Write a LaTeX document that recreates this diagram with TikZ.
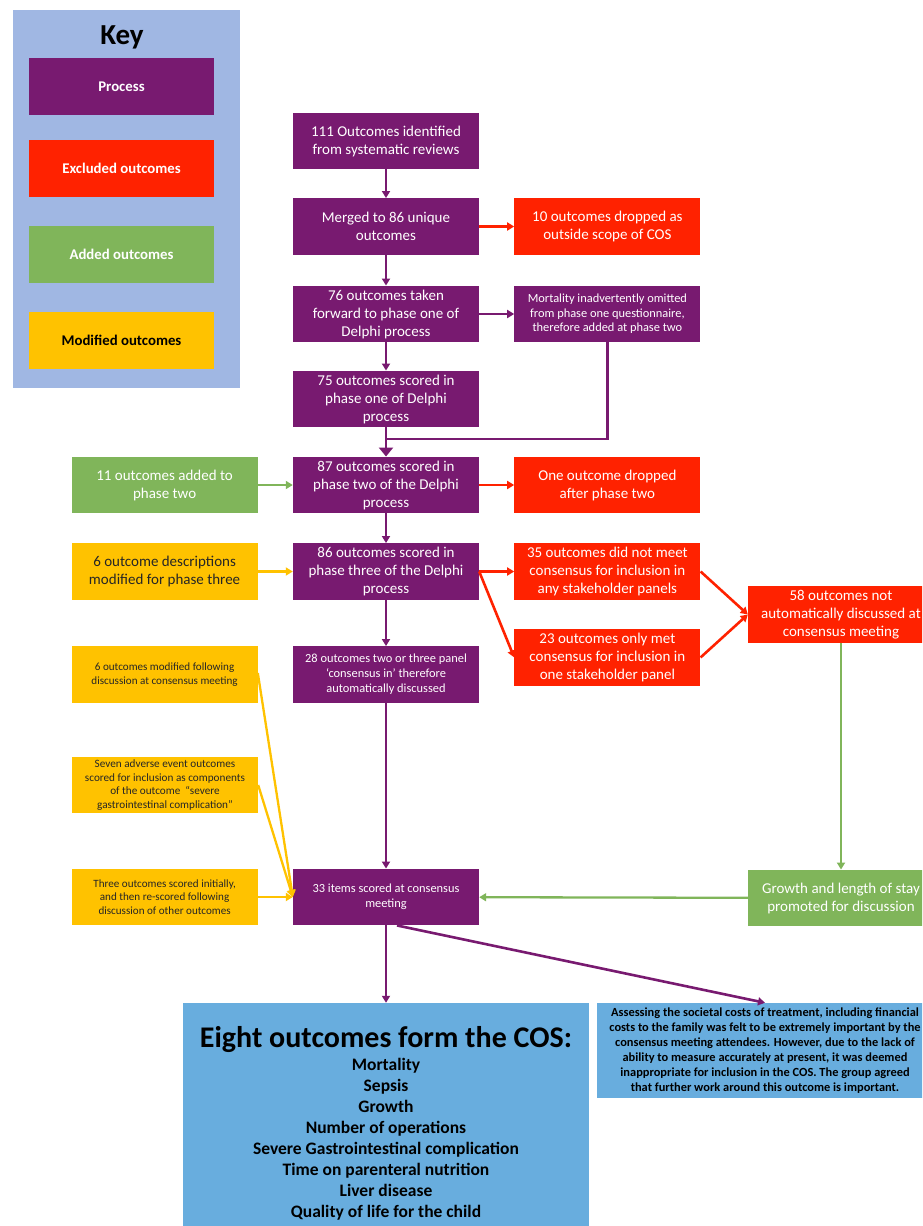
\documentclass[tikz,border=0pt]{standalone}
\usepackage{fontspec}
\setmainfont{Carlito}
\usepackage{tikz}
\usetikzlibrary{positioning}
\usetikzlibrary{arrows.meta}
\usepackage{xcolor}

\definecolor{procpurple}{RGB}{120,26,112}
\definecolor{exclred}{RGB}{255,34,0}
\definecolor{addgreen}{RGB}{128,181,90}
\definecolor{modyellow}{RGB}{255,194,0}
\definecolor{cosblue}{RGB}{104,173,222}
\definecolor{keyblue}{RGB}{160,183,227}

\begin{document}
\begin{tikzpicture}[x=1pt, y=-1pt, node distance=35pt,
  every node/.style={rectangle, align=center, inner sep=2pt, text=white},
  box/.style={minimum width=186pt, minimum height=56.5pt, font=\fontsize{15}{18}\selectfont},
  small/.style={font=\fontsize{12.4}{15}\selectfont},
  tiny/.style={font=\fontsize{11.1}{13.5}\selectfont},
  proc/.style={box, fill=procpurple},
  excl/.style={box, fill=exclred},
  added/.style={box, fill=addgreen},
  modif/.style={box, fill=modyellow, text=black!85},
  keyitem/.style={minimum width=185pt, minimum height=57pt, font=\fontsize{14.8}{17}\selectfont\bfseries},
  parrow/.style={draw=procpurple, line width=2.6pt, -{Triangle[length=7pt,width=8pt]}},
  rarrow/.style={draw=exclred, line width=2.6pt, -{Triangle[length=7pt,width=8pt]}},
  garrow/.style={draw=addgreen, line width=2.3pt, -{Triangle[length=7pt,width=8pt]}},
  yarrow/.style={draw=modyellow, line width=2.3pt, -{Triangle[length=7pt,width=8pt]}}]

\useasboundingbox (0,0) rectangle (922,1226);
\clip (0,0) rectangle (922,1226);

% Key
\node[fill=keyblue, minimum width=227pt, minimum height=378pt] (key) at (126.5,199) {};
\node[text=black, font=\fontsize{29}{33}\selectfont\bfseries] (keytitle) at (122,37) {Key};
\node[keyitem, fill=procpurple] (keyproc) at (121.5,86.5) {Process};
\node[keyitem, fill=exclred] (keyexcl) at (121.5,168) {Excluded outcomes};
\node[keyitem, fill=addgreen] (keyadd) at (121.5,254.5) {Added outcomes};
\node[keyitem, fill=modyellow, text=black] (keymod) at (121.5,340.5) {Modified outcomes};

% Nodes
\node[proc] (step1) at (386,141) {111 Outcomes identified\\from systematic reviews};
\node[proc] (step2) at (386,226.5) {Merged to 86 unique\\outcomes};
\node[proc] (step3) at (386,314) {76 outcomes taken\\forward to phase one of\\Delphi process};
\node[proc] (step4) at (386,399) {75 outcomes scored in\\phase one of Delphi\\process};
\node[proc] (step5) at (386,485) {87 outcomes scored in\\phase two of the Delphi\\process};
\node[proc] (step6) at (386,571.5) {86 outcomes scored in\\phase three of the Delphi\\process};
\node[proc, small] (step7) at (386,674.5) {28 outcomes two or three panel\\‘consensus in’ therefore\\automatically discussed};
\node[proc, small] (step8) at (386,897) {33 items scored at consensus\\meeting};

\node[excl, right=of step2] (drop1) {10 outcomes dropped as\\outside scope of COS};
\node[proc, right=of step3, font=\fontsize{12.4}{14.5}\selectfont] (mort) {Mortality inadvertently omitted\\from phase one questionnaire,\\therefore added at phase two};
\node[excl, right=of step5] (drop2) {One outcome dropped\\after phase two};
\node[excl, right=of step6] (drop3) {35 outcomes did not meet\\consensus for inclusion in\\any stakeholder panels};
\node[excl, below=29pt of drop3] (drop4) {23 outcomes only met\\consensus for inclusion in\\one stakeholder panel};
\node[excl] (notdisc) at (841,614.5) {58 outcomes not\\automatically discussed at\\consensus meeting};
\node[added] (growth) at (841,898) {Growth and length of stay\\promoted for discussion};

\node[added, left=of step5] (add1) {11 outcomes added to\\phase two};
\node[modif, left=of step6] (mod1) {6 outcome descriptions\\modified for phase three};
\node[modif, left=of step7, tiny] (mod2) {6 outcomes modified following\\discussion at consensus meeting};
\node[modif, tiny, font=\fontsize{11.2}{13.6}\selectfont] (mod3) at (165,785) {Seven adverse event outcomes\\scored for inclusion as components\\of the outcome \ “severe\\gastrointestinal complication”};
\node[modif, left=of step8, tiny] (mod4) {Three outcomes scored initially,\\and then re-scored following\\discussion of other outcomes};

\node[fill=cosblue, text=black, minimum width=406pt, minimum height=240pt, font=\fontsize{17.5}{21}\selectfont\bfseries] (cos) at (386,1123)
  {{\fontsize{30}{34}\selectfont Eight outcomes form the COS:}\\[2pt]
   Mortality\\Sepsis\\Growth\\Number of operations\\Severe Gastrointestinal complication\\Time on parenteral nutrition\\Liver disease\\Quality of life for the child};
\node[fill=cosblue, text=black, minimum width=336pt, minimum height=95pt, font=\fontsize{12.4}{15}\selectfont\bfseries] (note) at (765,1050.5)
  {Assessing the societal costs of treatment, including financial\\costs to the family was felt to be extremely important by the\\consensus meeting attendees. However, due to the lack of\\ability to measure accurately at present, it was deemed\\inappropriate for inclusion in the COS. The group agreed\\that further work around this outcome is important.};

\coordinate (merge) at (386,439);

% Arrows
\draw[parrow] (step1) -- (step2);
\draw[parrow] (step2) -- (step3);
\draw[parrow] (step3) -- (step4);
\draw[parrow, -{Triangle[length=9pt,width=14pt]}] (step4) -- (step5);
\draw[procpurple, line width=2.6pt] (mort) |- (merge);
\draw[rarrow] (step2) -- (drop1);
\draw[parrow] (step3) -- (mort);
\draw[rarrow] (step5) -- (drop2);
\draw[garrow] (add1) -- (step5);
\draw[parrow] (step5) -- (step6);
\draw[yarrow] (mod1) -- (step6);
\draw[rarrow] (step6.east) -- (drop3.west);
\draw[rarrow] (step6.east) -- (drop4.west);
\draw[rarrow] (drop3.east) -- (notdisc.west);
\draw[rarrow] (drop4.east) -- (notdisc.west);
\draw[parrow] (step6) -- (step7);
\draw[parrow] (step7) -- (step8);
\draw[garrow] (notdisc) -- (growth);
\draw[garrow] (growth) -- (step8);
\draw[yarrow] ([yshift=1.5pt]mod2.east) -- (step8.west);
\draw[yarrow] (mod3.east) -- (step8.west);
\draw[yarrow] (mod4.east) -- (step8.west);
\draw[parrow] (step8) -- (cos);
\draw[parrow] ([xshift=11pt]step8.south) -- (note.north);

\end{tikzpicture}
\end{document}
